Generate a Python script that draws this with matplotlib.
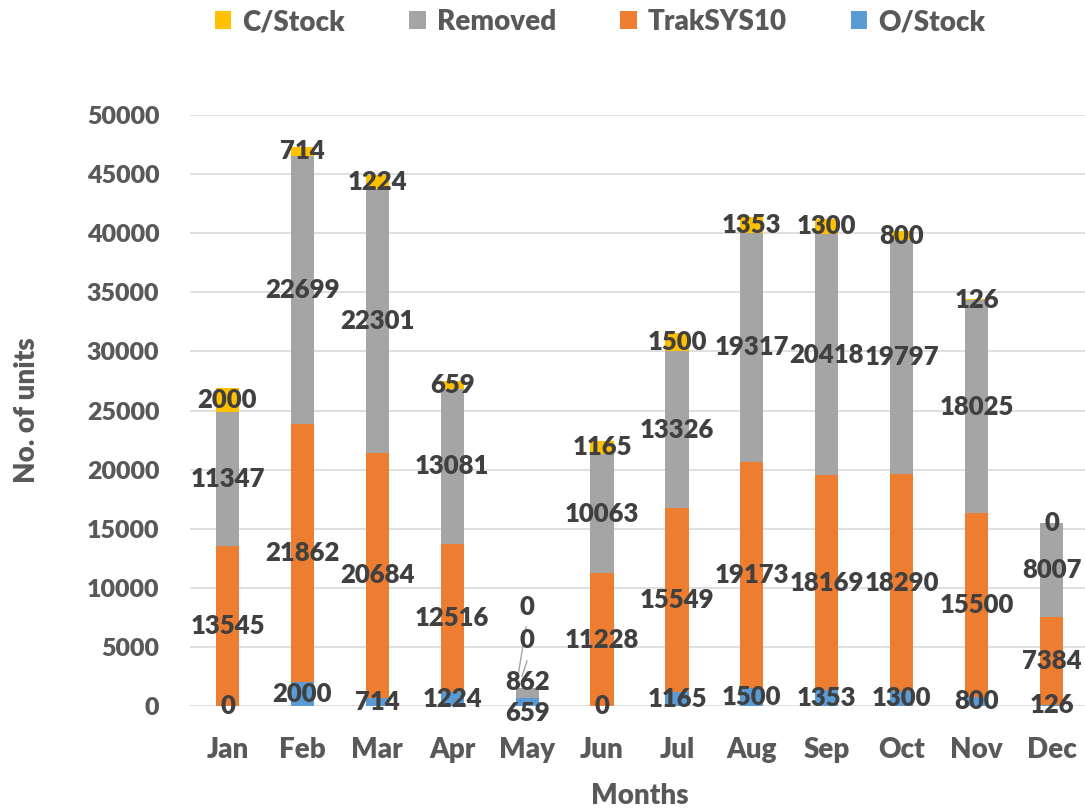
import matplotlib
matplotlib.use("Agg")
import matplotlib.pyplot as plt
import numpy as np

months = ["Jan", "Feb", "Mar", "Apr", "May", "Jun", "Jul", "Aug", "Sep", "Oct", "Nov", "Dec"]
o_stock = [0, 2000, 714, 1224, 659, 0, 1165, 1500, 1353, 1300, 800, 126]
traksys = [13545, 21862, 20684, 12516, 0, 11228, 15549, 19173, 18169, 18290, 15500, 7384]
removed = [11347, 22699, 22301, 13081, 862, 10063, 13326, 19317, 20418, 19797, 18025, 8007]
c_stock = [2000, 714, 1224, 659, 0, 1165, 1500, 1353, 1300, 800, 126, 0]

series = [("O/Stock", o_stock, "#5B9BD5"),
          ("TrakSYS10", traksys, "#ED7D31"),
          ("Removed", removed, "#A5A5A5"),
          ("C/Stock", c_stock, "#FFC000")]

WT = 800
plt.rcParams['font.family'] = ['Lato', 'DejaVu Sans']
plt.rcParams['font.weight'] = WT

W, H = 1085, 811
fig = plt.figure(figsize=(W / 100, H / 100), dpi=100)
left_px, right_px, bottom_px, top_px = 190, 1089, 706, 115
ax = fig.add_axes([left_px / W, (H - bottom_px) / H, (right_px - left_px) / W, (bottom_px - top_px) / H])

x = np.arange(len(months))
bottom = np.zeros(len(months))
handles = {}
label_info = []
for name, vals, color in series:
    vals = np.array(vals, dtype=float)
    b = ax.bar(x, vals, width=0.31, bottom=bottom, color=color, zorder=2, label=name)
    handles[name] = b
    for i, v in enumerate(vals):
        label_info.append((name, i, bottom[i] + v / 2, int(v)))
    bottom = bottom + vals

ax.set_xlim(-0.5, len(months) - 0.5)
ax.set_ylim(0, 50000)
ax.set_yticks(np.arange(0, 50001, 5000))
ax.yaxis.grid(True, color="#D9D9D9", linewidth=1.2, zorder=0)
ax.set_axisbelow(True)
for s in ax.spines.values():
    s.set_visible(False)
ax.tick_params(axis='both', length=0)
ax.tick_params(axis='y', pad=22, labelsize=18, labelcolor="#595959")
ax.tick_params(axis='x', pad=22, labelsize=20, labelcolor="#595959")
ax.set_xticks(x)
ax.set_xticklabels(months)
for t in ax.get_xticklabels() + ax.get_yticklabels():
    t.set_fontweight(WT)

# May label offsets (pixels) where labels overlap
may_offsets = {"O/Stock": -11, "Removed": 11, "TrakSYS10": 58, "C/Stock": 81}
may_idx = months.index("May")
for name, i, yc, v in label_info:
    dy = 0
    if i == may_idx:
        dy = may_offsets[name]
    ax.annotate(str(v), xy=(i, yc), xytext=(0, dy * 0.72), textcoords="offset points",
                ha="center", va="center", fontsize=18.5, fontweight=WT,
                color="#404040", zorder=5)

def px_to_data(px, py):
    inv = ax.transData.inverted()
    disp = fig.transFigure.transform((px / W, (H - py) / H))
    return inv.transform(disp)
p1 = px_to_data(526, 627); p2 = px_to_data(516, 688)
p3 = px_to_data(527, 661); p4 = px_to_data(522, 676)
ax.plot([p1[0], p2[0]], [p1[1], p2[1]], color="#A6A6A6", lw=1, zorder=4)
ax.plot([p3[0], p4[0]], [p3[1], p4[1]], color="#A6A6A6", lw=1, zorder=4)

ax.set_ylabel("No. of units", fontsize=20, fontweight=WT, color="#595959", labelpad=34)
ax.set_xlabel("Months", fontsize=20, fontweight=WT, color="#595959", labelpad=15)

order = ["C/Stock", "Removed", "TrakSYS10", "O/Stock"]
leg = fig.legend([handles[n] for n in order], order, loc="center", ncol=4,
                 bbox_to_anchor=(600 / W, 1 - 22 / H), frameon=False,
                 prop={'size': 20, 'weight': WT}, handlelength=0.6, handleheight=0.6,
                 handletextpad=0.4, columnspacing=2.3)
for t in leg.get_texts():
    t.set_color("#595959")

fig.savefig("out.png", dpi=100)
